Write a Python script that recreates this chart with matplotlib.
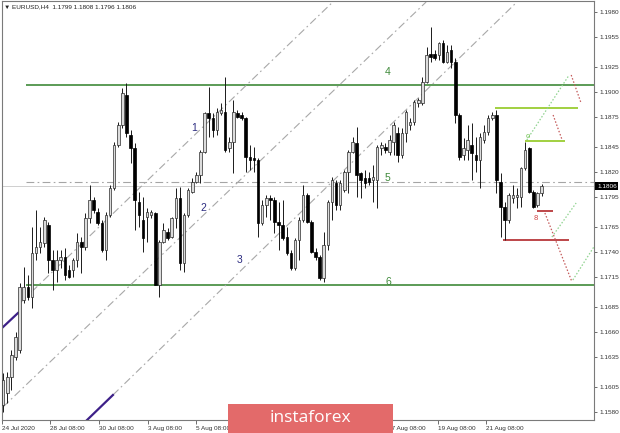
import matplotlib
matplotlib.use("Agg")
import matplotlib.pyplot as plt
from matplotlib.patches import Rectangle
import numpy as np

# ---------------- data (EURUSD H4) ----------------
opens = [1.1587,1.1599,1.1615,1.1635,1.1642,1.1692,1.1705,1.1695,1.1739,1.1745,
         1.1749,1.1767,1.1732,1.1722,1.1732,1.1735,1.1722,1.1722,1.1732,1.1750,
         1.1745,1.1774,1.1792,1.1780,1.1769,1.1742,1.1777,1.1804,1.1847,1.1867,
         1.1897,1.1857,1.1844,1.1790,1.1772,1.1775,1.1777,1.1779,1.1707,1.1750,
         1.1760,1.1755,1.1774,1.1794,1.1729,1.1777,1.1800,1.1810,1.1817,1.1840,
         1.1879,1.1874,1.1862,1.1879,1.1880,1.1844,1.1850,1.1879,1.1877,1.1874,
         1.1835,1.1834,1.1832,1.1769,1.1787,1.1794,1.1792,1.1770,1.1767,1.1755,
         1.1739,1.1724,1.1752,1.1772,1.1797,1.1770,1.1740,1.1735,1.1714,1.1747,
         1.1790,1.1809,1.1787,1.1802,1.1820,1.1840,1.1849,1.1819,1.1814,1.1814,
         1.1812,1.1812,1.1844,1.1845,1.1840,1.1850,1.1859,1.1837,1.1859,1.1867,
         1.1870,1.1889,1.1889,1.1910,1.1938,1.1938,1.1937,1.1949,1.1930,1.1942,
         1.1930,1.1877,1.1837,1.1842,1.1847,1.1837,1.1832,1.1852,1.1860,1.1874,
         1.1877,1.1810,1.1785,1.1772,1.1794,1.1795,1.1795,1.1824,1.1844,1.1800,
         1.1787,1.1799]
highs = [1.1619,1.1620,1.1642,1.1660,1.1709,1.1725,1.1717,1.1765,1.1782,1.1765,
         1.1775,1.1770,1.1742,1.1742,1.1742,1.1744,1.1727,1.1734,1.1759,1.1755,
         1.1779,1.1807,1.1795,1.1784,1.1772,1.1780,1.1807,1.1850,1.1870,1.1904,
         1.1909,1.1862,1.1849,1.1800,1.1795,1.1784,1.1782,1.1780,1.1752,1.1769,
         1.1764,1.1775,1.1804,1.1805,1.1779,1.1804,1.1814,1.1820,1.1842,1.1880,
         1.1905,1.1879,1.1884,1.1889,1.1915,1.1855,1.1892,1.1882,1.1880,1.1875,
         1.1847,1.1845,1.1834,1.1792,1.1797,1.1797,1.1795,1.1790,1.1792,1.1765,
         1.1742,1.1754,1.1775,1.1807,1.1799,1.1772,1.1744,1.1737,1.1760,1.1792,
         1.1815,1.1812,1.1812,1.1822,1.1842,1.1855,1.1865,1.1820,1.1822,1.1820,
         1.1827,1.1847,1.1850,1.1849,1.1857,1.1870,1.1865,1.1864,1.1882,1.1874,
         1.1892,1.1894,1.1915,1.1945,1.1965,1.1942,1.1950,1.1952,1.1947,1.1947,
         1.1934,1.1879,1.1854,1.1867,1.1869,1.1855,1.1859,1.1867,1.1877,1.1880,
         1.1882,1.1819,1.1790,1.1799,1.1807,1.1804,1.1825,1.1850,1.1845,1.1802,
         1.1800,1.1808]
lows = [1.1580,1.1589,1.1602,1.1632,1.1639,1.1689,1.1692,1.1684,1.1732,1.1739,
        1.1745,1.1719,1.1702,1.1710,1.1724,1.1712,1.1714,1.1715,1.1725,1.1719,
        1.1742,1.1769,1.1779,1.1767,1.1740,1.1732,1.1775,1.1802,1.1845,1.1864,
        1.1855,1.1829,1.1762,1.1765,1.1740,1.1750,1.1774,1.1707,1.1695,1.1749,
        1.1752,1.1754,1.1764,1.1722,1.1720,1.1775,1.1799,1.1809,1.1809,1.1839,
        1.1855,1.1855,1.1857,1.1877,1.1840,1.1840,1.1819,1.1874,1.1872,1.1820,
        1.1822,1.1820,1.1755,1.1767,1.1775,1.1772,1.1759,1.1742,1.1752,1.1737,
        1.1722,1.1722,1.1732,1.1770,1.1769,1.1739,1.1732,1.1712,1.1710,1.1742,
        1.1772,1.1782,1.1782,1.1800,1.1799,1.1839,1.1795,1.1794,1.1804,1.1807,
        1.1790,1.1784,1.1837,1.1839,1.1837,1.1837,1.1830,1.1834,1.1850,1.1862,
        1.1867,1.1885,1.1887,1.1909,1.1930,1.1932,1.1932,1.1929,1.1929,1.1924,
        1.1869,1.1832,1.1832,1.1832,1.1812,1.1820,1.1804,1.1849,1.1857,1.1872,
        1.1799,1.1755,1.1752,1.1769,1.1789,1.1784,1.1785,1.1822,1.1799,1.1784,
        1.1785,1.1796]
closes = [1.1612,1.1615,1.1637,1.1655,1.1705,1.1705,1.1695,1.1739,1.1745,1.1750,
          1.1772,1.1732,1.1722,1.1732,1.1735,1.1717,1.1715,1.1732,1.1750,1.1745,
          1.1774,1.1792,1.1782,1.1769,1.1742,1.1777,1.1804,1.1847,1.1867,1.1899,
          1.1859,1.1844,1.1792,1.1777,1.1754,1.1780,1.1780,1.1707,1.1750,1.1762,
          1.1754,1.1774,1.1794,1.1729,1.1777,1.1802,1.1810,1.1817,1.1840,1.1879,
          1.1874,1.1862,1.1880,1.1882,1.1842,1.1850,1.1880,1.1875,1.1874,1.1835,
          1.1832,1.1832,1.1769,1.1787,1.1794,1.1792,1.1770,1.1767,1.1754,1.1739,
          1.1724,1.1752,1.1772,1.1797,1.1770,1.1740,1.1735,1.1714,1.1747,1.1790,
          1.1812,1.1787,1.1809,1.1820,1.1840,1.1850,1.1817,1.1812,1.1809,1.1810,
          1.1815,1.1845,1.1847,1.1842,1.1852,1.1867,1.1837,1.1859,1.1880,1.1870,
          1.1890,1.1892,1.1910,1.1937,1.1935,1.1934,1.1949,1.1930,1.1940,1.1930,
          1.1877,1.1835,1.1844,1.1852,1.1839,1.1832,1.1855,1.1860,1.1874,1.1877,
          1.1812,1.1785,1.1772,1.1797,1.1797,1.1797,1.1824,1.1842,1.1800,1.1785,
          1.1799,1.1806]

y_ticks = [1.1980, 1.1955, 1.1925, 1.1900, 1.1875, 1.1845, 1.1820, 1.1795,
           1.1765, 1.1740, 1.1715, 1.1685, 1.1660, 1.1635, 1.1605, 1.1580]
x_tick_pos = [-0.29, 11.4, 23.3, 35.2, 46.9, 93.6, 105.8, 117.5]
x_tick_labels = ["24 Jul 2020", "28 Jul 08:00", "30 Jul 08:00", "3 Aug 08:00",
                 "5 Aug 08:00", "17 Aug 08:00", "19 Aug 08:00", "21 Aug 08:00"]

current_price = 1.1806
header = "EURUSD,H4  1.1799 1.1808 1.1796 1.1806"

# horizontal levels: (price, x_start, x_end)
dark_green_levels = [(1.1907, 5.5, None), (1.1707, 5.5, None)]
dashdot_level = (1.1810, 5.5, None)
light_green_levels = [(1.1884, 119.7, 139.9), (1.1851, 127.0, 136.7)]
red_levels = [(1.1781, 129.9, 133.8), (1.1752, 121.6, 137.7)]

# diagonal lines: (x0, p0, x1, p1)
channel_lines = [(4.1, 1.1689, 80.2, 1.1990),
                 (-0.05, 1.1585, 102.9, 1.1990),
                 (26.7, 1.1597, 125.0, 1.1990)]
purple_lines = [(-0.29, 1.1664, 3.6, 1.1679),
                (19.9, 1.1570, 26.7, 1.1597)]
green_dotted = [(127.4, 1.1852, 137.7, 1.1917),
                (133.5, 1.1755, 139.4, 1.1789),
                (138.6, 1.1712, 143.7, 1.1745)]
red_dotted = [(138.2, 1.1917, 140.6, 1.1889),
              (133.8, 1.1877, 136.0, 1.1852),
              (131.8, 1.1779, 138.4, 1.1710)]

# labels: (text, x, price)
wave_labels_blue = [("1", 46.4, 1.1864), ("2", 48.6, 1.1784), ("3", 57.4, 1.1732)]
wave_labels_green = [("4", 93.6, 1.1920), ("5", 93.6, 1.1814), ("6", 93.6, 1.1710)]

# ---------------- figure ----------------
W, H = 620, 433
fig = plt.figure(figsize=(6.2, 4.33), dpi=100)
fig.patch.set_facecolor("white")
ax = fig.add_axes([2 / W, 13 / H, 592 / W, 419 / H])
XMIN, XMAX = -0.29, -0.29 + 592 / 4.11
ax.set_xlim(XMIN, XMAX)
ax.set_ylim(1.1572, 1.1991)

FONT = ["Liberation Sans", "DejaVu Sans"]

o = np.array(opens); h = np.array(highs); l = np.array(lows); c = np.array(closes)
x = np.arange(len(o))
up = c >= o
ax.vlines(x, l, h, color="#1a1a1a", lw=0.7, zorder=3)
bw = 0.62
body_lo = np.minimum(o, c)
body_h = np.maximum(np.abs(c - o), 0.00004)
ax.bar(x[up], body_h[up], bottom=body_lo[up], width=bw, facecolor="#dcdcdc",
       edgecolor="#2a2a2a", linewidth=0.5, zorder=4)
ax.bar(x[~up], body_h[~up], bottom=body_lo[~up], width=bw, facecolor="#000000",
       edgecolor="#000000", linewidth=0.5, zorder=4)

# current price line
ax.axhline(current_price, color="#c8c8c8", lw=0.6, zorder=1)

# levels
for p, x0, x1 in dark_green_levels:
    ax.hlines(p, x0, XMAX if x1 is None else x1, color="#3f8a3a", lw=1.2, zorder=2)
p, x0, x1 = dashdot_level
ax.hlines(p, x0, XMAX if x1 is None else x1, color="#a5a5a5", lw=0.8,
          linestyles=[(0, (7, 3, 1.5, 3))], zorder=2)
for p, x0, x1 in light_green_levels:
    ax.hlines(p, x0, x1, color="#9acd32", lw=1.3, zorder=2)
for p, x0, x1 in red_levels:
    ax.hlines(p, x0, x1, color="#b8373a", lw=1.3, zorder=2)

for x0, p0, x1, p1 in channel_lines:
    ax.plot([x0, x1], [p0, p1], color="#a8a8a8", lw=0.8,
            ls=(0, (7, 3, 1.5, 3)), zorder=2)
for x0, p0, x1, p1 in purple_lines:
    ax.plot([x0, x1], [p0, p1], color="#3d2088", lw=1.6, zorder=2)
for x0, p0, x1, p1 in green_dotted:
    ax.plot([x0, x1], [p0, p1], color="#8fd38f", lw=0.9, ls=(0, (1.2, 1.5)), zorder=2)
for x0, p0, x1, p1 in red_dotted:
    ax.plot([x0, x1], [p0, p1], color="#c45a5a", lw=0.9, ls=(0, (1.2, 1.5)), zorder=2)

for t, xx, pp in wave_labels_blue:
    ax.text(xx, pp, t, color="#2b2b80", fontsize=7.5, ha="center", va="center",
            family=FONT, zorder=5)
for t, xx, pp in wave_labels_green:
    ax.text(xx, pp, t, color="#3f8a3a", fontsize=7.5, ha="center", va="center",
            family=FONT, zorder=5)
ax.text(129.6, 1.1773, "8", color="#d04545", fontsize=5.5, ha="center",
        va="center", family=FONT, zorder=5)
ax.text(127.7, 1.1855, "o", color="#6cbf4a", fontsize=5.5, ha="center",
        va="center", family=FONT, zorder=5)

# axes styling
for side in ["left", "right", "bottom", "top"]:
    ax.spines[side].set_color("#7a7a7a")
    ax.spines[side].set_linewidth(0.8)
ax.yaxis.tick_right()
ax.set_yticks(y_ticks)
ax.set_yticklabels([f"{v:.4f}" for v in y_ticks], fontsize=4.6, color="#333333",
                   family=FONT)
ax.tick_params(axis="y", length=2, width=0.6, pad=2, colors="#555555",
               labelcolor="#333333")
ax.set_xticks(x_tick_pos)
ax.set_xticklabels(x_tick_labels, fontsize=4.6, color="#333333", family=FONT,
                   ha="left")
ax.tick_params(axis="x", length=3, width=0.6, pad=1.5, colors="#555555",
               labelcolor="#333333")

# current price box
ax.annotate(f"{current_price:.4f}", xy=(1, current_price),
            xycoords=("axes fraction", "data"), xytext=(2.2, 0),
            textcoords="offset points", ha="left", va="center", fontsize=4.6,
            color="white", family=FONT,
            bbox=dict(boxstyle="square,pad=0.25", facecolor="black",
                      edgecolor="none"), annotation_clip=False, zorder=6)

# header
ax.text(0.004, 0.986, "\u25BC " + header, transform=ax.transAxes, fontsize=4.6,
        color="#222222", ha="left", va="center", family=FONT, zorder=6)

# logo
fig.add_artist(Rectangle((228 / W, 0), 165 / W, 29 / H, transform=fig.transFigure,
                         facecolor="#e36a6a", edgecolor="none", zorder=10))
fig.text((228 + 82.5) / W, 14.5 / H, "instaforex", color="white", fontsize=12.5,
         ha="center", va="center", family=["Open Sans", "DejaVu Sans"], zorder=11)

fig.savefig("out.png", dpi=100, facecolor="white")
